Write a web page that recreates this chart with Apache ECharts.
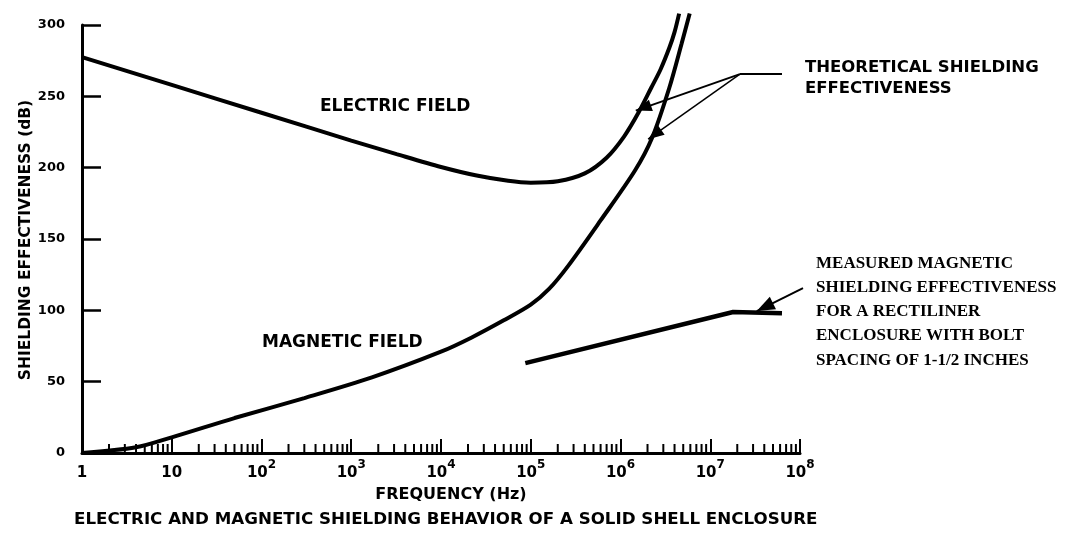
<!DOCTYPE html>
<html>
<head>
<meta charset="utf-8">
<script src="https://cdn.jsdelivr.net/npm/echarts@6/dist/echarts.min.js"></script>
<style>
html,body{margin:0;padding:0;background:#ffffff;}
#chart{width:1070px;height:543px;}
</style>
</head>
<body>
<div id="chart"></div>
<script>
// ---- data (frequency in Hz, shielding in dB) ----
const freqTicks = [1, 10, 100, 1e3, 1e4, 1e5, 1e6, 1e7, 1e8];
const minorMultipliers = [2, 3, 4, 5, 6, 7, 8, 9];
const yTicks = [0, 50, 100, 150, 200, 250, 300];

const electricField = [
  [1, 277.5], [10, 258], [100, 238.5], [1000, 219], [3200, 209.5], [1e4, 200.5],
  [2.5e4, 194.5], [5.6e4, 190.8], [1e5, 189.5], [2e5, 190.5], [4e5, 196],
  [7e5, 207], [1.1e6, 222], [1.6e6, 239], [2.2e6, 256], [2.8e6, 269], [3.5e6, 284],
  [4e6, 295], [4.5e6, 308]
];
const magneticField = [
  [1, 0], [4, 4], [10, 11], [50, 24.5], [300, 38.5], [1700, 53], [1e4, 71],
  [2.2e4, 81], [5e4, 93], [1e5, 104], [1.6e5, 115], [2.6e5, 131], [6e5, 163],
  [1.45e6, 198], [2.25e6, 221], [3.5e6, 256], [4.8e6, 287], [5.9e6, 308]
];
const measuredMagnetic = [
  [8.7e4, 63], [1.8e7, 98.8], [6.3e7, 98]
];

// annotation anchors (data space)
const theoreticalHub = [2.14e7, 265.6];
const theoreticalEnd = [6.3e7, 265.6];
const theoreticalTipElectric = [1.48e6, 240];
const theoreticalTipMagnetic = [2.03e6, 220];
const measuredArrowFrom = [1.08e8, 115.6];
const measuredArrowTip = [3.3e7, 99.5];

const BOLD = '"DejaVu Sans", sans-serif';
const SERIF = '"Liberation Serif", "DejaVu Serif", serif';

const minorTickData = [];
freqTicks.slice(0, -1).forEach(function (d) {
  minorMultipliers.forEach(function (m) { minorTickData.push([m * d, 0]); });
});

const chart = echarts.init(document.getElementById('chart'), null, {renderer: 'canvas'});

const curveStyle = {color: '#000', width: 4};

chart.setOption({
  animation: false,
  backgroundColor: '#ffffff',
  grid: {left: 82, right: 270, top: 25, bottom: 90, containLabel: false},
  xAxis: {
    type: 'log', logBase: 10, min: 1, max: 1e8, interval: 1,
    axisLine: {show: true, lineStyle: {color: '#000', width: 3}},
    axisTick: {show: true, inside: true, length: 14, lineStyle: {color: '#000', width: 2}},
    splitLine: {show: false},
    axisLabel: {
      margin: 6,
      formatter: function (v) {
        const k = Math.round(Math.log10(v));
        if (k === 0) return '{b|1}';
        if (k === 1) return '{b|10}';
        return '{b|10}{s|' + k + '}';
      },
      rich: {
        b: {fontFamily: BOLD, fontWeight: 'bold', fontSize: 15, color: '#000', lineHeight: 22, verticalAlign: 'bottom'},
        s: {fontFamily: BOLD, fontWeight: 'bold', fontSize: 12, color: '#000', lineHeight: 12, verticalAlign: 'top'}
      }
    }
  },
  yAxis: {
    type: 'value', min: 0, max: 300, interval: 50,
    axisLine: {show: true, lineStyle: {color: '#000', width: 3}},
    axisTick: {show: true, inside: true, length: 19, lineStyle: {color: '#000', width: 2.5}},
    splitLine: {show: false},
    axisLabel: {
      margin: 17, color: '#000', fontFamily: BOLD, fontWeight: 'bold', fontSize: 13,
      formatter: function (v) { return yTicks.indexOf(v) >= 0 ? String(v) : ''; }
    }
  },
  series: [
    {
      name: 'Electric field', type: 'line', data: electricField, showSymbol: false,
      smooth: 0.3, clip: false, lineStyle: curveStyle, z: 3
    },
    {
      name: 'Magnetic field', type: 'line', data: magneticField, showSymbol: false,
      smooth: 0.3, clip: false, lineStyle: curveStyle, z: 3
    },
    {
      name: 'Measured magnetic', type: 'line', data: measuredMagnetic, showSymbol: false,
      smooth: false, clip: false, lineStyle: {color: '#000', width: 4.5}, z: 3
    },
    {
      name: 'minor ticks', type: 'custom', data: minorTickData, silent: true, z: 2,
      renderItem: function (params, api) {
        const p = api.coord([api.value(0), 0]);
        return {
          type: 'line',
          shape: {x1: p[0], y1: p[1], x2: p[0], y2: p[1] - 9},
          style: {stroke: '#000', lineWidth: 2}
        };
      }
    }
  ]
});

function px(pt) { return chart.convertToPixel({gridIndex: 0}, pt); }
function arrowHead(from, tip, len, half) {
  const dx = tip[0] - from[0], dy = tip[1] - from[1];
  const d = Math.sqrt(dx * dx + dy * dy);
  const ux = dx / d, uy = dy / d;
  const bx = tip[0] - ux * len, by = tip[1] - uy * len;
  return {
    type: 'polygon',
    shape: {points: [[tip[0], tip[1]], [bx - uy * half, by + ux * half], [bx + uy * half, by - ux * half]]},
    style: {fill: '#000'}, z: 10
  };
}

const hub = px(theoreticalHub);
const hubEnd = px(theoreticalEnd);
const tE = px(theoreticalTipElectric);
const tM = px(theoreticalTipMagnetic);
const mFrom = px(measuredArrowFrom);
const mTip = px(measuredArrowTip);

chart.setOption({
  graphic: [
    {type: 'line', shape: {x1: hub[0], y1: hub[1], x2: hubEnd[0], y2: hubEnd[1]}, style: {stroke: '#000', lineWidth: 2}, z: 10},
    {type: 'line', shape: {x1: hub[0], y1: hub[1], x2: tE[0], y2: tE[1]}, style: {stroke: '#000', lineWidth: 2}, z: 10},
    {type: 'line', shape: {x1: hub[0], y1: hub[1], x2: tM[0], y2: tM[1]}, style: {stroke: '#000', lineWidth: 1.5}, z: 10},
    arrowHead(hub, tE, 16, 6),
    arrowHead(hub, tM, 16, 6),
    {type: 'line', shape: {x1: mFrom[0], y1: mFrom[1], x2: mTip[0], y2: mTip[1]}, style: {stroke: '#000', lineWidth: 2}, z: 10},
    arrowHead(mFrom, mTip, 18, 7),
    {type: 'text', x: 26, y: 240, rotation: Math.PI / 2, style: {text: 'SHIELDING EFFECTIVENESS (dB)', fill: '#000', font: 'bold 15.5px ' + BOLD, align: 'center', verticalAlign: 'middle'}, z: 10},
    {type: 'text', x: 320, y: 107, style: {text: 'ELECTRIC FIELD', fill: '#000', font: 'bold 17px ' + BOLD, verticalAlign: 'middle'}, z: 10},
    {type: 'text', x: 262, y: 343, style: {text: 'MAGNETIC FIELD', fill: '#000', font: 'bold 17px ' + BOLD, verticalAlign: 'middle'}, z: 10},
    {type: 'text', x: 805, y: 57, style: {text: 'THEORETICAL SHIELDING\nEFFECTIVENESS', fill: '#000', font: 'bold 16.5px ' + BOLD, lineHeight: 21, verticalAlign: 'top'}, z: 10},
    {type: 'text', x: 816, y: 251, style: {text: 'MEASURED MAGNETIC\nSHIELDING EFFECTIVENESS\nFOR A RECTILINER\nENCLOSURE WITH BOLT\nSPACING OF 1-1/2 INCHES', fill: '#000', font: 'bold 17px ' + SERIF, lineHeight: 24.3, verticalAlign: 'top'}, z: 10},
    {type: 'text', x: 451, y: 495, style: {text: 'FREQUENCY (Hz)', fill: '#000', font: 'bold 16px ' + BOLD, align: 'center', verticalAlign: 'middle'}, z: 10},
    {type: 'text', x: 74, y: 520, style: {text: 'ELECTRIC AND MAGNETIC SHIELDING BEHAVIOR OF A SOLID SHELL ENCLOSURE', fill: '#000', font: 'bold 16.7px ' + BOLD, verticalAlign: 'middle'}, z: 10}
  ]
});
</script>
</body>
</html>
